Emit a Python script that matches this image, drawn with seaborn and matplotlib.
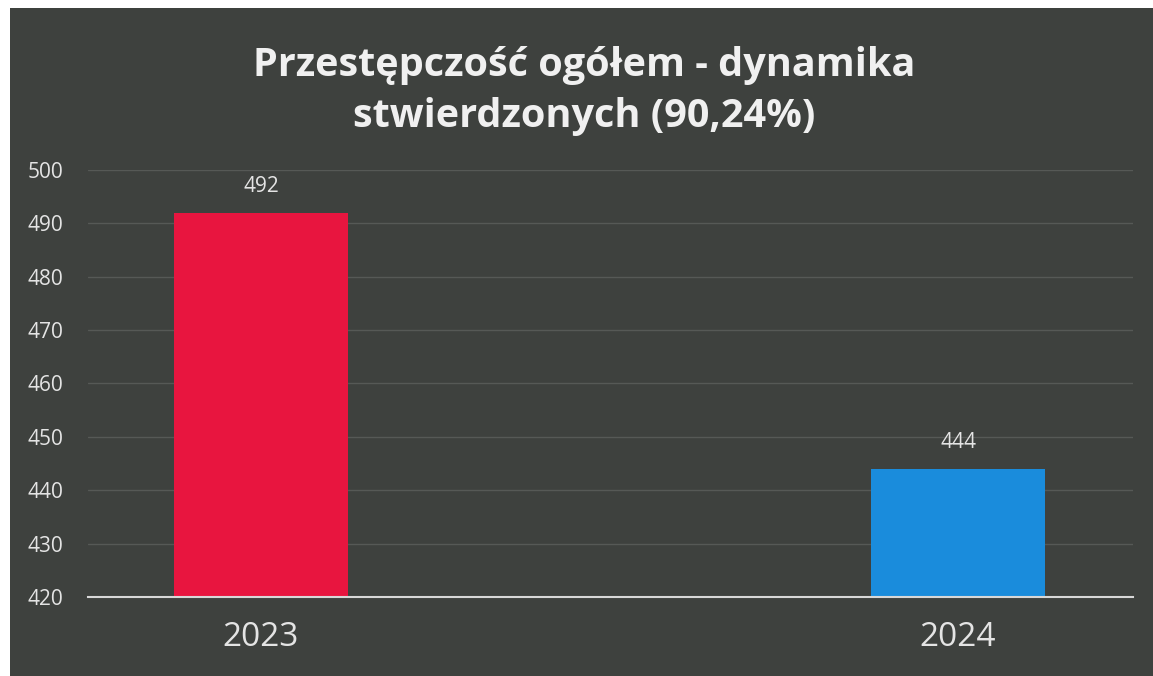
import matplotlib
matplotlib.use("Agg")
import matplotlib.pyplot as plt
import seaborn as sns
import pandas as pd
from matplotlib.patches import Rectangle

# chart data
years = ["2023", "2024"]
values = [492, 444]
bar_colors = ["#e8153f", "#1a8cdc"]
y_ticks = [420, 430, 440, 450, 460, 470, 480, 490, 500]
title = "Przestępczość ogółem - dynamika\nstwierdzonych (90,24%)"

BG = "#3e413e"
TEXT = "#e4e4e4"

sns.set_theme(style="dark")
plt.rcParams["font.family"] = ["Open Sans", "DejaVu Sans"]

df = pd.DataFrame({"rok": years, "liczba": values})

fig = plt.figure(figsize=(11.53, 6.76), dpi=100, facecolor="white")
# scanned slide: dark panel with a thin white margin left and top
fig.patches.append(Rectangle((10 / 1153, 0), 1, 1 - 8 / 676,
                             transform=fig.transFigure, facecolor=BG,
                             edgecolor="none", zorder=-10))

ax = fig.add_axes([0.0763, 0.1169, 0.9064, 0.6316])
ax.set_facecolor("none")

sns.barplot(data=df, x="rok", y="liczba", hue="rok", palette=bar_colors,
            legend=False, width=0.25, saturation=1, linewidth=0,
            ax=ax, zorder=3)

ax.set_ylim(420, 500)
ax.set_xlim(-0.248, 1.251)
ax.set_yticks(y_ticks)
ax.set_yticklabels([str(t) for t in y_ticks], color=TEXT, fontsize=15)
ax.tick_params(axis="y", length=0, pad=18)
ax.tick_params(axis="x", length=0, pad=17, labelsize=24, labelcolor=TEXT)
ax.set_xlabel("")
ax.set_ylabel("")

ax.grid(axis="y", color="#565956", linewidth=1, zorder=0)
ax.grid(axis="x", visible=False)
for s in ["top", "right", "left"]:
    ax.spines[s].set_visible(False)
ax.spines["bottom"].set_color("#d8d8d8")
ax.spines["bottom"].set_linewidth(1.5)
ax.spines["bottom"].set_zorder(4)

for i, v in enumerate(values):
    ax.text(i, v + 4.9, str(v), ha="center", va="center", color=TEXT,
            fontsize=15)

fig.text(0.507, 0.865, title, ha="center", va="center", color="#f0f0f0",
         fontsize=28.5, fontweight="bold", linespacing=1.4)

fig.savefig("out.png", dpi=100, facecolor=fig.get_facecolor())
